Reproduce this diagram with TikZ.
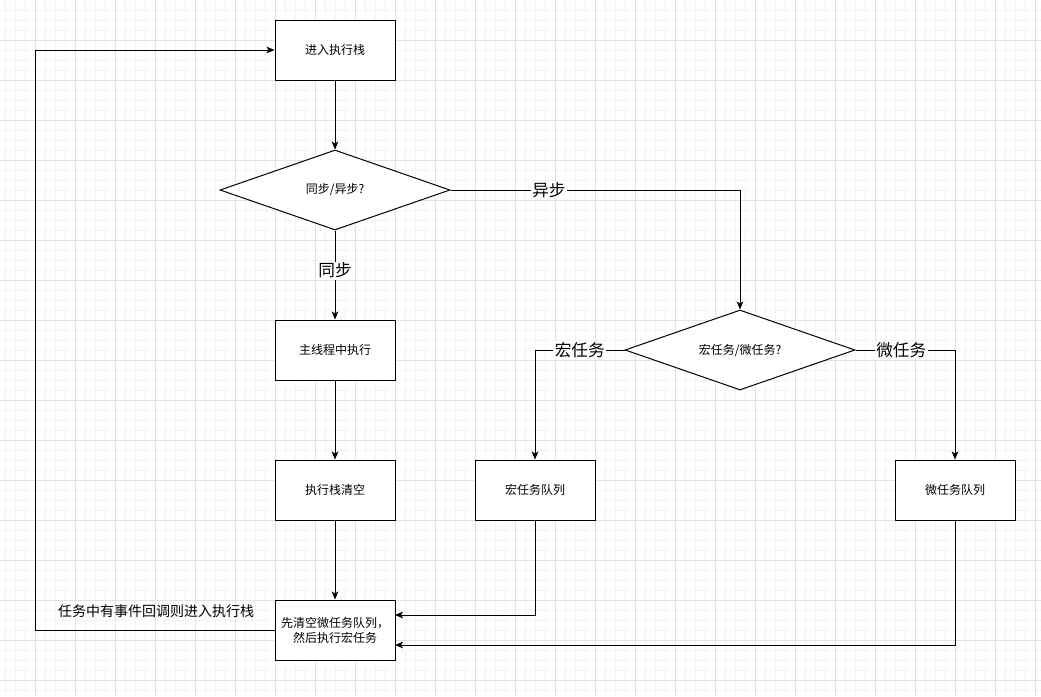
\documentclass[tikz,border=0pt]{standalone}
\usepackage{fontspec}
\setmainfont{Noto Sans CJK SC}
\usetikzlibrary{shapes.geometric,arrows.meta}
\definecolor{gridminor}{HTML}{F3F3F3}
\definecolor{gridmajor}{HTML}{E2E2E2}

\begin{document}
\begin{tikzpicture}[x=0.75pt, y=-0.75pt,
    every node/.style={font=\fontsize{9}{11.25}\selectfont},
    box/.style={rectangle, draw, fill=white, line width=0.75pt, minimum width=90pt, minimum height=45pt, inner sep=0pt, align=center},
    decision/.style={diamond, draw, fill=white, line width=0.75pt, minimum width=172.5pt, minimum height=60pt, aspect=2.875, inner sep=0pt},
    arrow/.style={-{Stealth[length=6pt,width=5pt,inset=1.5pt]}, line width=0.75pt},
    edgelabel/.style={fill=white, inner sep=1pt, font=\fontsize{12.5}{14}\selectfont}
]

% Fondo con cuadricula
\useasboundingbox (0,0) rectangle (1041,696);
\fill[white] (0,0) rectangle (1041,696);
\foreach \x in {5,15,...,1035} \draw[gridminor, line width=0.5pt] (\x,0) -- (\x,696);
\foreach \y in {10,20,...,690} \draw[gridminor, line width=0.5pt] (0,\y) -- (1041,\y);
\foreach \x in {35,75,...,1035} \draw[gridmajor, line width=0.6pt] (\x,0) -- (\x,696);
\foreach \y in {40,80,...,680} \draw[gridmajor, line width=0.6pt] (0,\y) -- (1041,\y);

% Nodos
\node[box] (enter) at (335,50) {进入执行栈};
\node[decision] (syncq) at (335,190) {同步/异步?};
\node[box] (mainrun) at (335,350) {主线程中执行};
\node[box] (clear) at (335,490) {执行栈清空};
\node[box] (flush) at (335,630) {先清空微任务队列，\\然后执行宏任务};
\node[decision] (taskq) at (740,350) {宏任务/微任务?};
\node[box] (macroq) at (535,490) {宏任务队列};
\node[box] (microq) at (955,490) {微任务队列};
\node[font=\fontsize{10.5}{12}\selectfont] (looptext) at (156,611) {任务中有事件回调则进入执行栈};

\coordinate (macroin) at (395,615);
\coordinate (microin) at (395,645);
\coordinate (loopleft) at (35,630);

% Flechas
\draw[arrow] (enter) -- (syncq);
\draw[arrow] (syncq) -- node[edgelabel, pos=0.45] {同步} (mainrun);
\draw[arrow] (mainrun) -- (clear);
\draw[arrow] (clear) -- (flush);
\draw[arrow] (syncq.east) -| node[edgelabel, pos=0.17] {异步} (taskq.north);
\draw[arrow] (taskq.west) -| node[edgelabel, pos=0.25] {宏任务} (macroq.north);
\draw[arrow] (taskq.east) -| node[edgelabel, pos=0.23] {微任务} (microq.north);
\draw[arrow] (macroq.south) |- (macroin);
\draw[arrow] (microq.south) |- (microin);
\draw[arrow] (flush.west) -- (loopleft) |- (enter.west);

\end{tikzpicture}
\end{document}
